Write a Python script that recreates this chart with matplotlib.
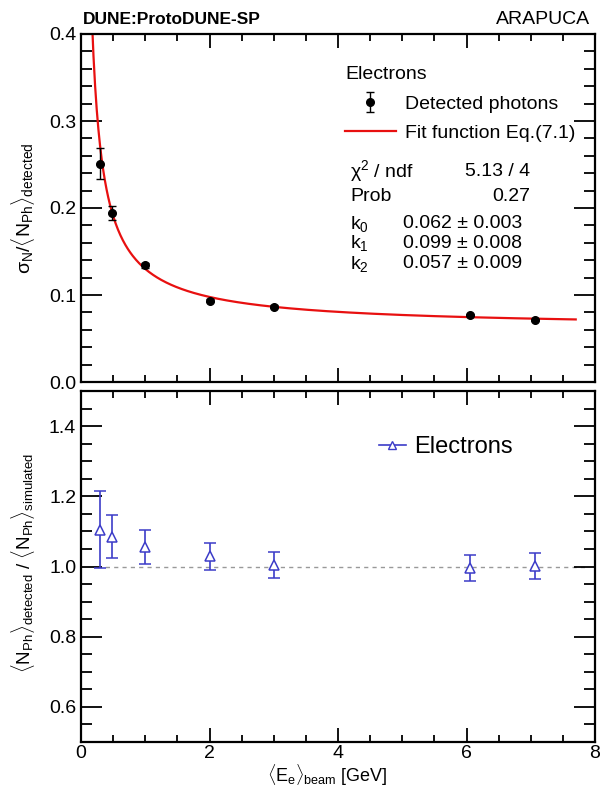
import numpy as np
import matplotlib
matplotlib.use('Agg')
import matplotlib.pyplot as plt
from matplotlib.ticker import MultipleLocator, FormatStrFormatter
from matplotlib.lines import Line2D

plt.rcParams['font.family'] = ['Liberation Sans', 'DejaVu Sans']
plt.rcParams['mathtext.fontset'] = 'custom'
plt.rcParams['mathtext.rm'] = 'Liberation Sans'
plt.rcParams['mathtext.it'] = 'Liberation Sans:italic'
plt.rcParams['mathtext.bf'] = 'Liberation Sans:bold'

# ---- data ----
energy = [0.29, 0.49, 1.0, 2.0, 3.0, 6.05, 7.06]
resolution = [0.251, 0.1945, 0.134, 0.0936, 0.0867, 0.077, 0.0713]
resolution_err = [0.018, 0.008, 0.003, 0.0015, 0.0015, 0.0015, 0.0015]
ratio = [1.105, 1.085, 1.056, 1.029, 1.004, 0.997, 1.002]
ratio_err = [0.110, 0.062, 0.048, 0.038, 0.038, 0.037, 0.037]
k0, k1, k2 = 0.062, 0.099, 0.057
fit_range = [0.08, 7.7]
stats_labels = [r'χ$^{\rm 2}$ / ndf', 'Prob']
stats_values = ['5.13 / 4', '0.27']
param_labels = [r'k$_{\rm 0}$', r'k$_{\rm 1}$', r'k$_{\rm 2}$']
param_values = ['0.062 \u00b1 0.003', '0.099 \u00b1 0.008', '0.057 \u00b1 0.009']

blue = '#3c3cc8'
red = '#e81010'

fig = plt.figure(figsize=(6, 7.88), dpi=100)
W, H = 600.0, 788.0
ax1 = fig.add_axes([81 / W, 1 - 382 / H, 514 / W, 348 / H])
ax2 = fig.add_axes([81 / W, 1 - 742 / H, 514 / W, 351 / H])

for ax in (ax1, ax2):
    for s in ax.spines.values():
        s.set_linewidth(1.6)
    ax.set_xlim(0, 8)
    ax.xaxis.set_major_locator(MultipleLocator(2))
    ax.xaxis.set_minor_locator(MultipleLocator(0.5))
    ax.tick_params(which='both', direction='in', top=True, right=True, labelsize=14, width=1.3)
    ax.tick_params(axis='x', which='major', length=10)
    ax.tick_params(axis='x', which='minor', length=5)
    ax.tick_params(axis='y', which='major', length=15)
    ax.tick_params(axis='y', which='minor', length=8)

# ---- top panel ----
E = np.linspace(fit_range[0], fit_range[1], 600)
fit = np.sqrt(k0 ** 2 + k1 ** 2 / E + k2 ** 2 / E ** 2)
ax1.plot(E, fit, color=red, lw=1.6, zorder=2)
eb = ax1.errorbar(energy, resolution, yerr=resolution_err, fmt='o', color='black',
                  ms=5.5, capsize=3, elinewidth=1.0, capthick=1.0, zorder=3)
ax1.set_ylim(0, 0.4)
ax1.yaxis.set_major_locator(MultipleLocator(0.1))
ax1.yaxis.set_minor_locator(MultipleLocator(0.02))
ax1.yaxis.set_major_formatter(FormatStrFormatter('%.1f'))
ax1.tick_params(axis='x', labelbottom=False)
ax1.set_ylabel(r'σ$_{\rm N}$/$\langle$N$_{\rm Ph}$$\rangle_{\rm detected}$', fontsize=14)
ax1.yaxis.set_label_coords(-0.085, 0.5)

fit_handle = Line2D([], [], color=red, lw=1.6)
leg = ax1.legend([eb, fit_handle], ['Detected photons', 'Fit function Eq.(7.1)'],
                 title='Electrons', title_fontsize=14, fontsize=14,
                 loc='upper left', bbox_to_anchor=(0.514, 0.907), frameon=False,
                 borderpad=0, borderaxespad=0, handlelength=2.6, handletextpad=0.5,
                 labelspacing=0.6, alignment='left')

rows_y = [0.605, 0.533]
for lab, val, yy in zip(stats_labels, stats_values, rows_y):
    ax1.text(0.524, yy, lab, transform=ax1.transAxes, fontsize=14, va='center', ha='left')
    ax1.text(0.874, yy, val, transform=ax1.transAxes, fontsize=14, va='center', ha='right')
prow_y = [0.455, 0.398, 0.34]
for lab, val, yy in zip(param_labels, param_values, prow_y):
    ax1.text(0.524, yy, lab, transform=ax1.transAxes, fontsize=14, va='center', ha='left')
    ax1.text(0.626, yy, val, transform=ax1.transAxes, fontsize=14, va='center', ha='left')

fig.text(83 / W, 1 - 24 / H, 'DUNE:ProtoDUNE-SP', fontsize=12.5, fontweight='bold', ha='left', va='baseline')
fig.text(590 / W, 1 - 24 / H, 'ARAPUCA', fontsize=14, ha='right', va='baseline')

# ---- bottom panel ----
ax2.hlines(1.0, 0.25, 7.85, colors='#999999', linestyles=(0, (3, 3)), lw=1.0, zorder=1)
eb2 = ax2.errorbar(energy, ratio, yerr=ratio_err, fmt='^', color=blue, mfc='white', mec=blue,
                   ms=7, mew=1.1, capsize=4, elinewidth=1.2, capthick=1.2, zorder=3)
ax2.set_ylim(0.5, 1.5)
ax2.yaxis.set_major_locator(MultipleLocator(0.2))
ax2.yaxis.set_minor_locator(MultipleLocator(0.05))
ax2.yaxis.set_major_formatter(FormatStrFormatter('%.1f'))
ax2.set_ylabel(r'$\langle$N$_{\rm Ph}$$\rangle_{\rm detected}$ / $\langle$N$_{\rm Ph}$$\rangle_{\rm simulated}$',
               fontsize=13.5)
ax2.yaxis.set_label_coords(-0.085, 0.51)
ax2.set_xlabel(r'$\langle$E$_{\rm e}$$\rangle_{\rm beam}$ [GeV]', fontsize=13)
ax2.xaxis.set_label_coords(0.48, -0.059)
ax2.xaxis.label.set_va('top')
ax2.tick_params(axis='x', pad=2)

leg_handle = Line2D([], [], color=blue, marker='^', mfc='white', mec=blue, ms=6, lw=1.2)
ax2.legend([leg_handle], ['Electrons'], fontsize=17, loc='center left',
           bbox_to_anchor=(0.579, 0.84), frameon=False, borderpad=0, borderaxespad=0,
           handlelength=1.15, handletextpad=0.35)

fig.savefig('out.png', dpi=100)
